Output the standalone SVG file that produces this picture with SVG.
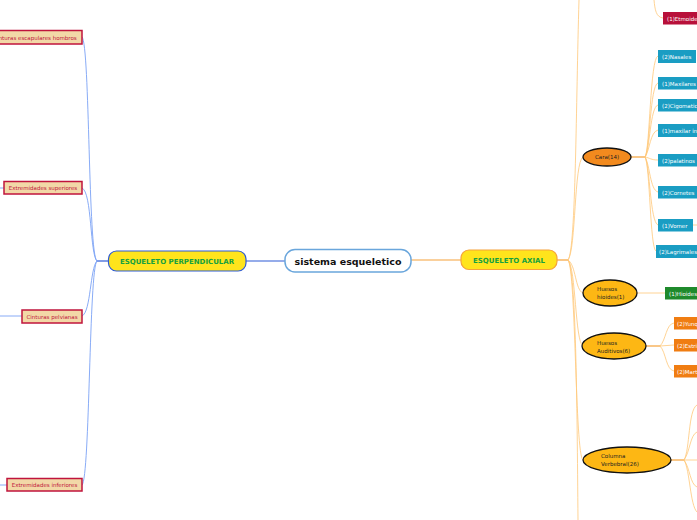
<svg xmlns="http://www.w3.org/2000/svg" width="697" height="520" viewBox="0 0 697 520">
<style>
text{font-family:"DejaVu Sans","Liberation Sans",sans-serif;}
.lb rect{fill:#f2d8a7;stroke:#c0143c;stroke-width:1.5;}
.lb text{fill:#c0143c;font-size:5.5px;text-anchor:middle;}
.teal rect{fill:#1a9dc3;}
.w text{fill:#fff;font-size:5.5px;}
.red rect{fill:#b8103a;}
.grn rect{fill:#1f8a2c;}
.org rect{fill:#f07d12;}
.ell ellipse{stroke:#111;stroke-width:1.3;}
.ell text{fill:#222;font-size:5.5px;}
.main text{font-weight:bold;text-anchor:middle;}
.bl{fill:none;stroke:#7aa2f5;stroke-width:0.9;}
.ol{fill:none;stroke:#ffc878;stroke-width:0.8;}
</style>
<rect width="697" height="520" fill="#fff"/>
<g id="connectors">
<path d="M285,261 L246,261" stroke="#2d5ad6" stroke-width="1.2" fill="none"/>
<path d="M411,260 L461,260" stroke="#f5a23a" stroke-width="1.2" fill="none"/>
<path d="M108,261 L97,261" stroke="#2d5ad6" stroke-width="1.2" fill="none"/>
<path class="bl" d="M97,261 C88,255 90,45 82,37"/>
<path class="bl" d="M97,261 C90,255 92,192 82,188"/>
<path class="bl" d="M97,261 C90,268 91,312 82,316"/>
<path class="bl" d="M97,261 C89,268 90,478 82,485"/>
<path class="bl" d="M0,188 L4,188" stroke="#2d5ad6"/>
<path class="bl" d="M0,316 L22,316"/>
<path class="bl" d="M0,485 L7,485" stroke="#2d5ad6" stroke-width="1.2"/>
<path d="M557,260 L568,260" stroke="#f5a23a" stroke-width="1.2" fill="none"/>
<path class="ol" d="M568,260 C576,250 576,100 579,0"/>
<path class="ol" d="M568,260 C576,250 574,162 583,157"/>
<path class="ol" d="M568,260 C576,265 575,290 583,293"/>
<path class="ol" d="M568,260 C576,268 575,342 583,346"/>
<path class="ol" d="M568,260 C576,270 575,455 583,460"/>
<path class="ol" d="M568,260 C576,270 577,400 578,520"/>
<path class="ol" d="M654,0 C655,10 656,17 663,18"/>
<path d="M631,157 L645,157" stroke="#f5a23a" stroke-width="1.2" fill="none"/>
<path class="ol" d="M645,157 C650,150 650,58 658,56"/>
<path class="ol" d="M645,157 C650,150 650,85 658,83"/>
<path class="ol" d="M645,157 C650,150 650,107 658,105"/>
<path class="ol" d="M645,157 C650,150 650,132 658,130"/>
<path class="ol" d="M645,157 C650,158 651,160 658,160"/>
<path class="ol" d="M645,157 C650,165 650,190 658,192"/>
<path class="ol" d="M645,157 C650,165 650,222 658,225"/>
<path class="ol" d="M645,157 C650,165 650,248 656,251"/>
<path class="ol" d="M693,225 L697,225"/>
<path class="ol" d="M637,293 L665,293"/>
<path d="M646,346 L660,346" stroke="#f5a23a" stroke-width="1.2" fill="none"/>
<path class="ol" d="M660,346 C666,340 666,324 674,323"/>
<path class="ol" d="M660,346 L674,345"/>
<path class="ol" d="M660,346 C666,352 666,370 674,371"/>
<path d="M671,460 L684,460" stroke="#f5a23a" stroke-width="1.2" fill="none"/>
<path class="ol" d="M684,460 C690,450 688,410 697,405"/>
<path class="ol" d="M684,460 C690,452 690,435 697,432"/>
<path class="ol" d="M684,460 L697,460"/>
<path class="ol" d="M684,460 C690,468 690,484 697,487"/>
<path class="ol" d="M684,460 C690,470 690,505 697,512"/>
</g>
<g id="root" class="main">
<rect x="285" y="249.5" width="126" height="22.5" rx="10" fill="#fff" stroke="#6aa6dc" stroke-width="1.5"/>
<text x="348" y="264.5" font-size="9.5px" fill="#111">sistema esqueletico</text>
</g>
<g id="perp" class="main">
<rect x="108.5" y="251" width="137.5" height="20" rx="8" fill="#ffe41c" stroke="#2d5ad6" stroke-width="1.2"/>
<text x="177" y="264" font-size="7px" fill="#15a040">ESQUELETO PERPENDICULAR</text>
</g>
<g id="axial" class="main">
<rect x="461" y="250" width="96" height="19.5" rx="8" fill="#ffe41c" stroke="#f5a23a" stroke-width="1.2"/>
<text x="509" y="262.5" font-size="7px" fill="#15a040">ESQUELETO AXIAL</text>
</g>
<g id="n-escap" class="lb"><rect x="-12" y="30.5" width="94" height="13.5"/><text x="35" y="39.5">Cinturas escapulares hombros</text></g>
<g id="n-sup" class="lb"><rect x="4" y="181.5" width="78" height="12.5"/><text x="43" y="190">Extremidades superiores</text></g>
<g id="n-pelv" class="lb"><rect x="22" y="310" width="60" height="13"/><text x="52" y="318.5">Cinturas pelvianas</text></g>
<g id="n-inf" class="lb"><rect x="7" y="478.5" width="75" height="12.5"/><text x="44.5" y="487">Extremidades inferiores</text></g>
<g id="n-cara" class="ell"><ellipse cx="607" cy="157" rx="24" ry="9" fill="#f28a1e"/><text x="607" y="159" text-anchor="middle">Cara(14)</text></g>
<g id="n-hioides" class="ell"><ellipse cx="610" cy="293" rx="27" ry="13" fill="#fdb714"/><text x="597" y="291">Huesos</text><text x="597" y="299">hioides(1)</text></g>
<g id="n-audit" class="ell"><ellipse cx="614" cy="346" rx="32" ry="13" fill="#fdb714"/><text x="597" y="345">Huesos</text><text x="597" y="353">Auditivos(6)</text></g>
<g id="n-col" class="ell"><ellipse cx="627" cy="460" rx="44" ry="13" fill="#fdb714"/><text x="601" y="458">Columna</text><text x="601" y="466">Verbebral(26)</text></g>
<g id="n-etm" class="w red"><rect x="663" y="12" width="40" height="12.5"/><text x="667" y="20.5">(1)Etmoides</text></g>
<g id="n-nas" class="w teal"><rect x="658" y="50" width="38" height="13"/><text x="662" y="58.5">(2)Nasales</text></g>
<g id="n-max" class="w teal"><rect x="658" y="77" width="45" height="12.5"/><text x="662" y="85.5">(1)Maxilares</text></g>
<g id="n-cig" class="w teal"><rect x="658" y="99" width="45" height="12.5"/><text x="662" y="107.5">(2)Cigomaticos</text></g>
<g id="n-maxi" class="w teal"><rect x="658" y="124" width="45" height="13"/><text x="662" y="132.5">(1)maxilar inferior</text></g>
<g id="n-pal" class="w teal"><rect x="658" y="154" width="45" height="12.5"/><text x="662" y="162.5">(2)palatinos</text></g>
<g id="n-corn" class="w teal"><rect x="658" y="186" width="45" height="12.5"/><text x="662" y="194.5">(2)Cornetes</text></g>
<g id="n-vom" class="w teal"><rect x="658" y="219" width="35" height="12.5"/><text x="662" y="227.5">(1)Vomer</text></g>
<g id="n-lag" class="w teal"><rect x="656" y="245" width="45" height="13"/><text x="659" y="253.5">(2)Lagrimales</text></g>
<g id="n-hio" class="w grn"><rect x="665" y="287" width="40" height="12.5"/><text x="669" y="295.5">(1)Hioides</text></g>
<g id="n-yun" class="w org"><rect x="674" y="317" width="30" height="12.5"/><text x="677" y="325.5">(2)Yunque</text></g>
<g id="n-estr" class="w org"><rect x="674" y="339" width="30" height="12.5"/><text x="677" y="347.5">(2)Estribo</text></g>
<g id="n-mar" class="w org"><rect x="674" y="365" width="30" height="12.5"/><text x="677" y="373.5">(2)Martillo</text></g>
</svg>
